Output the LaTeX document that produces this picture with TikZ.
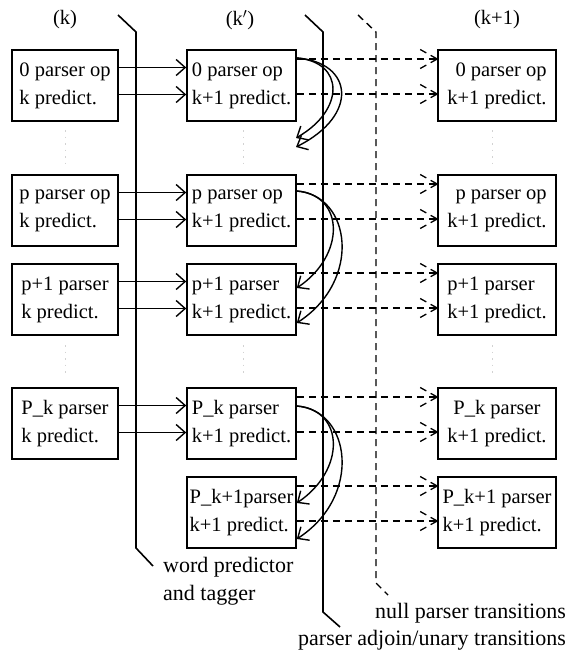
\documentclass[tikz,border=0pt]{standalone}
\usepackage{fontspec}
\setmainfont{Liberation Serif}
\usetikzlibrary{arrows.meta}
\begin{document}
\begin{tikzpicture}[x=1pt,y=-1pt,
  font=\fontsize{20.5}{28}\selectfont,
  box/.style={draw,line width=1.6pt,minimum height=71pt,inner xsep=2pt,inner ysep=0pt},
  lbox/.style={box,minimum width=106pt,align=left},
  mbox/.style={box,minimum width=109pt,align=left},
  rbox/.style={box,minimum width=118pt},
  lbl/.style={inner sep=0pt},
  caption/.style={lbl,font=\fontsize{22}{28}\selectfont},
  wire/.style={line width=1.4pt},
  tip/.style={-{Straight Barb[length=9pt,width=16pt]}},
  dline/.style={line width=1.4pt,dash pattern=on 7pt off 5pt},
  rail/.style={line width=1.6pt},
  dots/.style={line width=0.9pt,gray!35,dash pattern=on 1.5pt off 5pt},
  dbarb/.pic={\draw[line width=1.3pt,dash pattern=on 7pt off 5pt]
     (-17,-9.5) -- (0,0) (-17,9.5) -- (0,0);}
]
\useasboundingbox (0,0) rectangle (568,653);

% column headings
\node[lbl] (hk)  at (65,20)  {(k)};
\node[lbl] (hkp) at (240,20) {(k$'$)};
\node[lbl] (hk1) at (497,20) {(k+1)};

% left column: states at position k
\node[lbox] (l0) at (65,85.5)  {0 parser op\\k predict.};
\node[lbox] (lp) at (65,210.5) {p parser op\\k predict.};
\node[lbox] (lq) at (65,299.5) {p+1 parser\\k predict.};
\node[lbox] (lk) at (65,423.5) {P\_k parser\\k predict.};

% middle column: states after word prediction
\node[mbox] (m0) at (241.5,85.5)  {0 parser op\\k+1 predict.};
\node[mbox] (mp) at (241.5,210.5) {p parser op\\k+1 predict.};
\node[mbox] (mq) at (241.5,299.5) {p+1 parser\\k+1 predict.};
\node[mbox] (mk) at (241.5,423.5) {P\_k parser\\k+1 predict.};
\node[mbox] (mj) at (241.5,512.5) {P\_k+1parser\\k+1 predict.};

% right column: states at position k+1
\node[rbox,align=right]  (r0) at (497,85.5)  {0 parser op\\k+1 predict.};
\node[rbox,align=right]  (rp) at (497,210.5) {p parser op\\k+1 predict.};
\node[rbox,align=left]   (rq) at (497,299.5) {p+1 parser\\k+1 predict.};
\node[rbox,align=center] (rk) at (497,423.5) {P\_k parser\\k+1 predict.};
\node[rbox,align=left]   (rj) at (497,512.5) {P\_k+1 parser\\k+1 predict.};

% vertical ellipses between the rows
\foreach \x in {65,243,492} {
  \draw[dots] (\x,130) -- (\x,163);
  \draw[dots] (\x,345) -- (\x,377);
}

% stage separators
\draw[rail] (118,15) -- (136,32) -- (136,548) -- (153,566);
\draw[rail] (305,15) -- (323,32) -- (323,612) -- (340,627);
\draw[dline] (358,15) -- (376,32) -- (376,583) -- (388,595);

% word predictor and tagger transitions
\foreach \a/\b in {l0/m0,lp/mp,lq/mq,lk/mk} {
  \draw[wire,tip] ([yshift=18pt]\a.east) -- ([yshift=18pt]\b.west);
  \draw[wire,tip] ([yshift=-9pt]\a.east) -- ([yshift=-9pt]\b.west);
}

% null parser transitions
\foreach \a/\b in {m0/r0,mp/rp,mq/rq,mk/rk,mj/rj} {
  \draw[dline] ([yshift=26.5pt]\a.east) -- ([yshift=26.5pt]\b.west);
  \draw[dline] ([yshift=-8.5pt]\a.east) -- ([yshift=-8.5pt]\b.west);
  \pic at ([yshift=26.5pt]\b.west) {dbarb};
  \pic at ([yshift=-8.5pt]\b.west) {dbarb};
}

% parser adjoin/unary transitions
\coordinate (e0a) at (296,138);
\coordinate (e0b) at (296,147);
\draw[wire,tip] ([yshift=27.5pt]m0.east) .. controls +(48,4) and +(49,-28) .. (e0a);
\draw[wire,tip] ([yshift=27.5pt]m0.east) .. controls +(56,4) and +(64,-32) .. (e0b);
\draw[wire,tip] ([yshift=19.5pt]mp.east) .. controls +(48,4) and +(49,-33) .. ([yshift=11.5pt]mq.east);
\draw[wire,tip] ([yshift=19.5pt]mp.east) .. controls +(54,4) and +(66,-43) .. ([yshift=-23.5pt]mq.east);
\draw[wire,tip] ([yshift=17.5pt]mk.east) .. controls +(48,4) and +(49,-33) .. ([yshift=9.5pt]mj.east);
\draw[wire,tip] ([yshift=17.5pt]mk.east) .. controls +(54,4) and +(66,-43) .. ([yshift=-26.5pt]mj.east);

% separator captions
\node[caption,anchor=west,align=left] (cw) at (163,581.5) {word predictor\\and tagger};
\node[caption,anchor=east] (cn) at (566,613) {null parser transitions};
\node[caption,anchor=east] (ca) at (566,640) {parser adjoin/unary transitions};
\end{tikzpicture}
\end{document}
